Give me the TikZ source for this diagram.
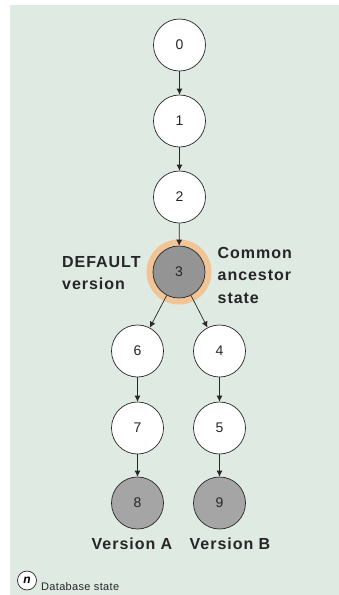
\documentclass[tikz,border=0pt]{standalone}
\usepackage{fontspec}
\setmainfont{Liberation Sans}
\usetikzlibrary{arrows.meta}
\definecolor{bgc}{RGB}{222,234,226}
\definecolor{ringc}{RGB}{240,196,150}
\definecolor{darkg}{RGB}{148,148,148}
\definecolor{lightg}{RGB}{165,165,165}
\definecolor{linec}{RGB}{40,40,40}
\tikzset{
  state/.style={circle, draw=linec, line width=0.7pt, fill=white, minimum size=52pt, inner sep=0pt, font=\fontsize{14}{14}\selectfont, text=black!85},
  graystate/.style={state, fill=lightg},
  ancestor/.style={state, fill=darkg},
  ring/.style={circle, fill=ringc, draw=none, minimum size=65pt, inner sep=0pt},
  lbl/.style={font=\bfseries\fontsize{16}{22.5}\selectfont\addfontfeature{LetterSpace=6}, text=black!85, inner sep=0pt},
  conn/.style={draw=linec, line width=0.7pt, -{Latex[length=6pt,width=6pt]}},
}
\begin{document}
\begin{tikzpicture}[x=1pt,y=-1pt]
\useasboundingbox (0,0) rectangle (339,595);
\fill[bgc] (10,5) rectangle (339,595);
% nodes
\node[state] (n0) at (179.5,45) {0};
\node[state] (n1) at (179.5,121) {1};
\node[state] (n2) at (179.5,197) {2};
\node[ring] (r3) at (179,272) {};
\node[ancestor] (n3) at (179,272) {3};
\node[state] (n6) at (137.5,351) {6};
\node[state] (n4) at (219.5,351) {4};
\node[state] (n7) at (137.5,428) {7};
\node[state] (n5) at (219.5,428) {5};
\node[graystate] (n8) at (137.5,503) {8};
\node[graystate] (n9) at (219.5,503) {9};
% labels
\node[lbl, anchor=west, align=left] (ldef) at (62,273) {DEFAULT\\version};
\node[lbl, anchor=west, align=left] (lcom) at (217.5,275) {Common\\ancestor\\state};
\node[lbl] (lva) at (132,544) {Version A};
\node[lbl] (lvb) at (230,544) {Version B};
% legend
\node[circle, draw=linec, line width=0.7pt, fill=white, minimum size=19pt, inner sep=0pt, font=\bfseries\itshape\fontsize{12}{12}\selectfont] (leg) at (27,580.5) {n};
\node[anchor=west, inner sep=0pt, font=\fontsize{11}{11}\selectfont\addfontfeature{LetterSpace=3}, text=black!85] (legt) at (41,587) {Database state};
% connectors
\draw[conn] (n0) -- (n1);
\draw[conn] (n1) -- (n2);
\draw[conn] (n2) -- (n3);
\draw[conn] (n3) -- (n6);
\draw[conn] (n3) -- (n4);
\draw[conn] (n6) -- (n7);
\draw[conn] (n4) -- (n5);
\draw[conn] (n7) -- (n8);
\draw[conn] (n5) -- (n9);
\end{tikzpicture}
\end{document}
